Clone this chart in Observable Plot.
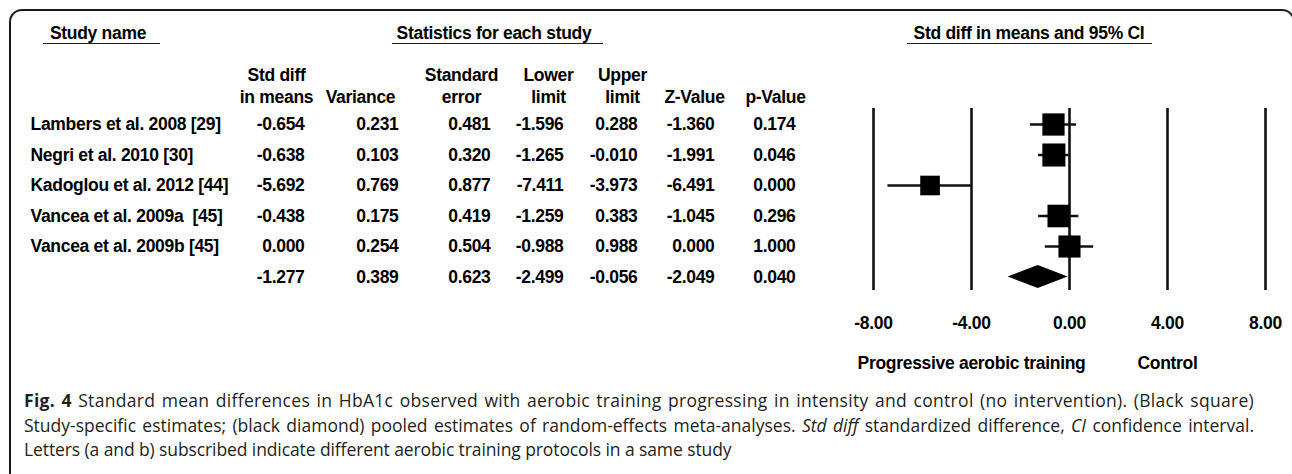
<!DOCTYPE html>
<html><head><meta charset="utf-8">
<script src="https://cdn.jsdelivr.net/npm/d3@7"></script>
<script src="https://cdn.jsdelivr.net/npm/@observablehq/plot@0.6"></script>
<style>
html,body{margin:0;padding:0;background:#fff;}
#fig{position:relative;width:1292px;height:474px;overflow:hidden;font-family:"Liberation Sans",Arial,sans-serif;}
#frame{position:absolute;left:9px;top:9px;width:1286px;height:520px;border:2px solid #1a1a1a;border-bottom:none;border-radius:13px 13px 0 0;box-sizing:border-box;}
.hdr{position:absolute;font-weight:bold;font-size:17.5px;line-height:20px;letter-spacing:-0.3px;color:#000;white-space:nowrap;transform:translateX(-50%);}
.ul{position:absolute;height:0;border-top:1.6px solid #222;}
#caption{position:absolute;left:24px;top:388px;width:1230px;font-family:"Open Sans",sans-serif;font-size:17.5px;line-height:24.5px;color:#231f20;}
#caption div{white-space:nowrap;}
#caption div.j{text-align:justify;text-align-last:justify;}
</style></head>
<body><div id="fig"><div id="frame"></div></div>
<script>
// ---- data ----
const studies = ["Lambers et al. 2008 [29]", "Negri et al. 2010 [30]", "Kadoglou et al. 2012 [44]", "Vancea et al. 2009a  [45]", "Vancea et al. 2009b [45]"];
const stdDiff  = [-0.654, -0.638, -5.692, -0.438, 0.000];
const variance = [0.231, 0.103, 0.769, 0.175, 0.254];
const stdErr   = [0.481, 0.320, 0.877, 0.419, 0.504];
const lowerLim = [-1.596, -1.265, -7.411, -1.259, -0.988];
const upperLim = [0.288, -0.010, -3.973, 0.383, 0.988];
const zValue   = [-1.360, -1.991, -6.491, -1.045, 0.000];
const pValue   = [0.174, 0.046, 0.000, 0.296, 1.000];
const pooled   = [-1.277, 0.389, 0.623, -2.499, -0.056, -2.049, 0.040]; // std diff, var, se, lower, upper, z, p
const colHeader1 = ["Std diff", "", "Standard", "Lower", "Upper", "", ""];
const colHeader2 = ["in means", "Variance", "error", "limit", "limit", "Z-Value", "p-Value"];
const topHeaders = ["Study name", "Statistics for each study", "Std diff in means and 95% CI"];
const xTicks = [-8, -4, 0, 4, 8];
const favourLabels = ["Progressive aerobic training", "Control"];
const favourAt = [-4, 4];
const captionLines = [
  '<b>Fig. 4</b> Standard mean differences in HbA1c observed with aerobic training progressing in intensity and control (no intervention). (Black square)',
  'Study-specific estimates; (black diamond) pooled estimates of random-effects meta-analyses. <i>Std diff</i> standardized difference, <i>CI</i> confidence interval.',
  'Letters (a and b) subscribed indicate different aerobic training protocols in a same study'
];

// ---- layout (pixels) ----
const W = 1292, H = 390;
const rowRange = [124, 276.5];
const nameLeft = 30;
const colRight = [304, 398, 490, 563, 637, 714, 795];
const headerCenter = [276, 360, 461, 548, 622, 694, 775];
const topHeaderCenter = [98, 494, 1029];
const underlineSpan = [[43, 160], [392, 603], [907, 1152]];
const captionLetterSpacing = ["0.3px", "0px", "-0.1px"];
const font = '"Liberation Sans", Arial, sans-serif';

// random-effects weights (DerSimonian-Laird) for square sizes
const wf = variance.map(v => 1 / v);
const sw = d3.sum(wf);
const mFixed = d3.sum(wf.map((w, i) => w * stdDiff[i])) / sw;
const Q = d3.sum(wf.map((w, i) => w * (stdDiff[i] - mFixed) ** 2));
const C = sw - d3.sum(wf.map(w => w * w)) / sw;
const tau2 = Math.max(0, (Q - (studies.length - 1)) / C);
const wr = variance.map(v => 1 / (v + tau2));

const studyRows = studies.map((s, i) => ({i, name: s, est: stdDiff[i], lower: lowerLim[i], upper: upperLim[i], w: wr[i],
  vals: [stdDiff[i], variance[i], stdErr[i], lowerLim[i], upperLim[i], zValue[i], pValue[i]]}));
const tableRows = [...studyRows, {i: studies.length, name: "", vals: pooled}];
const pi = studies.length;
const halfH = 11.5 / ((rowRange[1] - rowRange[0]) / 5);
const diamond = [
  {y: pi - halfH, x1: pooled[0], x2: pooled[0]},
  {y: pi, x1: pooled[3], x2: pooled[4]},
  {y: pi + halfH, x1: pooled[0], x2: pooled[0]}
];

const fig = document.getElementById("fig");

// top headers (HTML)
topHeaders.forEach((t, k) => {
  const d = document.createElement("div");
  d.className = "hdr"; d.textContent = t;
  d.style.left = topHeaderCenter[k] + "px"; d.style.top = (33 - 10) + "px";
  fig.appendChild(d);
  const u = document.createElement("div");
  u.className = "ul";
  u.style.left = underlineSpan[k][0] + "px"; u.style.width = (underlineSpan[k][1] - underlineSpan[k][0]) + "px";
  u.style.top = "43px";
  fig.appendChild(u);
});

const baseStyle = {fontFamily: font, fontSize: "17.5px", fontWeight: "bold", color: "#000", background: "transparent", letterSpacing: "-0.3px", overflow: "visible"};

// table
const tableMarks = [
  Plot.text(colHeader1, {x: (d, i) => headerCenter[i], frameAnchor: "top", dy: 68, text: d => d, fill: "#000"}),
  Plot.text(colHeader2, {x: (d, i) => headerCenter[i], frameAnchor: "top", dy: 90, text: d => d, fill: "#000"}),
  Plot.text(tableRows, {x: () => nameLeft, y: "i", text: "name", textAnchor: "start", fill: "#000"})
];
colRight.forEach((cx, c) => {
  tableMarks.push(Plot.text(tableRows, {x: () => cx, y: "i", text: d => d.vals[c].toFixed(3), textAnchor: "end", fill: "#000"}));
});
const table = Plot.plot({
  width: W, height: H, margin: 0,
  x: {type: "identity", axis: null},
  y: {domain: [0, 5], range: rowRange, axis: null},
  style: baseStyle,
  marks: tableMarks
});
table.style.position = "absolute"; table.style.left = "0px"; table.style.top = "0px";
fig.appendChild(table);

// forest plot
const forest = Plot.plot({
  width: W, height: H,
  marginLeft: 873, marginRight: 27, marginTop: 108, marginBottom: 100,
  x: {domain: [-8, 8], axis: null},
  y: {domain: [0, 5], range: rowRange, axis: null},
  r: {domain: [0, d3.max(wr)], range: [0, 13]},
  style: baseStyle,
  marks: [
    Plot.ruleX(xTicks, {x: d => d, stroke: "#111", strokeWidth: 2.6}),
    Plot.ruleY(studyRows, {x1: "lower", x2: "upper", y: "i", stroke: "#111", strokeWidth: 2.5}),
    Plot.dot(studyRows, {x: "est", y: "i", r: "w", symbol: "square", fill: "#000"}),
    Plot.areaX(diamond, {y: "y", x1: "x1", x2: "x2", fill: "#000", curve: "linear"}),
    Plot.axisX(xTicks, {tickFormat: d => d.toFixed(2), tickSize: 0, tickPadding: 26, label: null, fill: "#000"}),
    Plot.text(favourLabels, {x: (d, i) => favourAt[i], frameAnchor: "bottom", dy: 78, text: d => d, fill: "#000"})
  ]
});
forest.style.position = "absolute"; forest.style.left = "0px"; forest.style.top = "0px";
fig.appendChild(forest);

// caption (first two lines justified to the full width, last line ragged)
const cap = document.createElement("div");
cap.id = "caption";
captionLines.forEach((html, k) => {
  const line = document.createElement("div");
  if (k < captionLines.length - 1) line.className = "j";
  line.style.letterSpacing = captionLetterSpacing[k];
  line.innerHTML = html;
  cap.appendChild(line);
});
fig.appendChild(cap);
</script>
</body></html>
